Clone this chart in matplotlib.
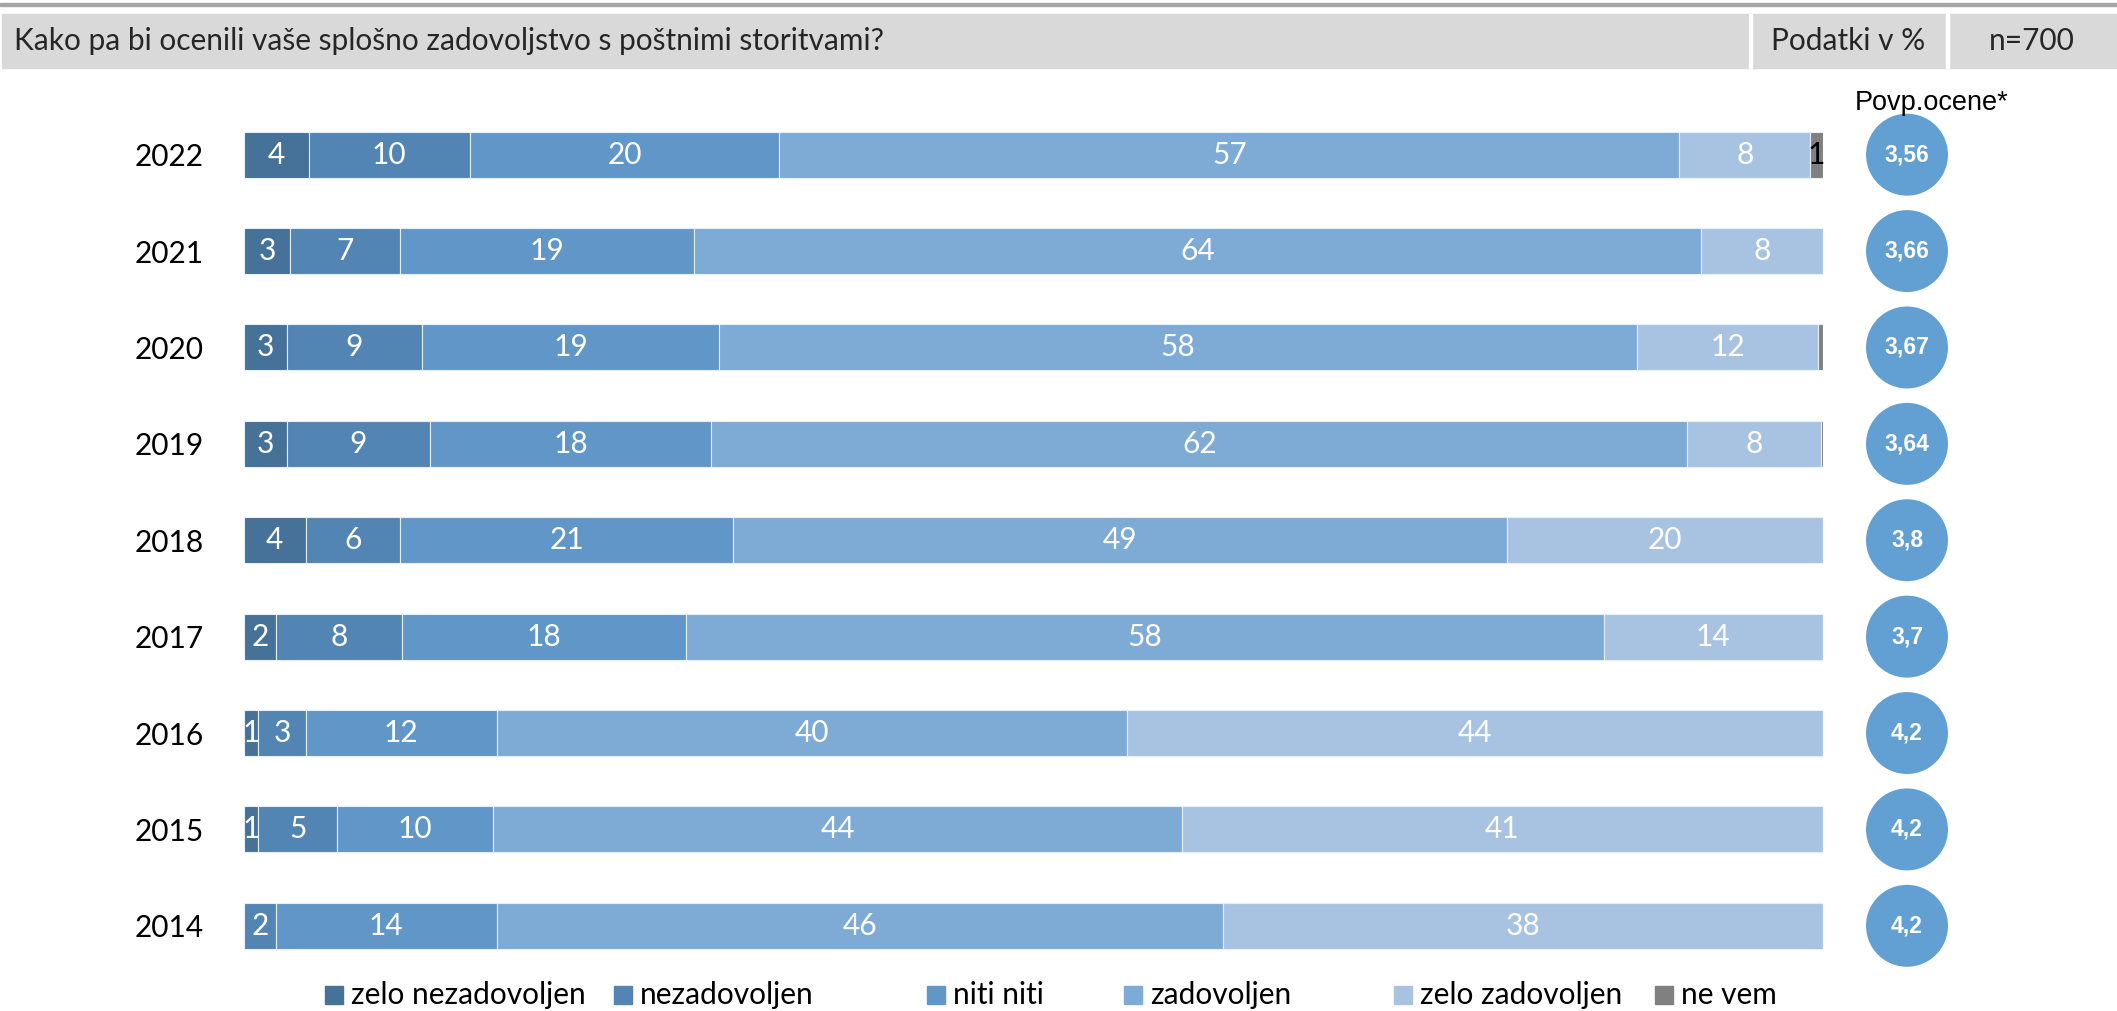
import matplotlib
matplotlib.use('Agg')
import matplotlib.pyplot as plt
from matplotlib.patches import Rectangle
import numpy as np

# ── Data ──────────────────────────────────────────────────────────────────────
YEARS = ['2022', '2021', '2020', '2019', '2018', '2017', '2016', '2015', '2014']
CATEGORIES = ['zelo nezadovoljen', 'nezadovoljen', 'niti niti',
              'zadovoljen', 'zelo zadovoljen', 'ne vem']

zelo_nezadovoljen = [4.1, 2.9, 2.7, 2.7, 3.9, 2.0, 0.9, 0.9, 0.0]
nezadovoljen      = [10.2, 7.0, 8.6, 9.1, 6.0, 8.0, 3.0, 5.0, 2.0]
niti_niti         = [19.6, 18.6, 18.8, 17.8, 21.1, 18.0, 12.1, 9.9, 14.0]
zadovoljen        = [57.0, 63.8, 58.1, 61.8, 49.0, 58.1, 39.9, 43.6, 46.0]
zelo_zadovoljen   = [8.3, 7.7, 11.5, 8.45, 20.0, 13.9, 44.1, 40.6, 38.0]
ne_vem            = [0.8, 0.0, 0.3, 0.15, 0.0, 0.0, 0.0, 0.0, 0.0]

POVP_OCENE = ['3,56', '3,66', '3,67', '3,64', '3,8', '3,7', '4,2', '4,2', '4,2']

COLORS = ['#467199', '#5284B4', '#6097C8', '#7EABD6', '#A8C3E1', '#808080']
CIRCLE_COLOR = '#629FD2'

TITLE = 'Kako pa bi ocenili vaše splošno zadovoljstvo s poštnimi storitvami?'

# ── Figure ────────────────────────────────────────────────────────────────────
W, H = 2117, 1011
fig = plt.figure(figsize=(W / 100, H / 100), dpi=100)
FONT = 'Lato'
FS = 21.5


def fx(px):
    return px / W


def fy(py):
    return 1 - py / H


# header band
fig.patches.append(Rectangle((fx(2), fy(68)), fx(W - 2), (68 - 14) / H,
                             transform=fig.transFigure, color='#D9D9D9', zorder=0))
fig.patches.append(Rectangle((0, fy(6)), 1, 3 / H,
                             transform=fig.transFigure, color='#A6A6A6', zorder=0))
for xd in (1750, 1947):
    fig.patches.append(Rectangle((fx(xd - 1.5), fy(68)), 3 / W, (68 - 14) / H,
                                 transform=fig.transFigure, color='white', zorder=1))
fig.text(fx(14), fy(41), TITLE, fontsize=FS, family=FONT, va='center', ha='left',
         color='#262626')
fig.text(fx(1848), fy(41), 'Podatki v %', fontsize=FS, family=FONT,
         va='center', ha='center', color='#262626')
fig.text(fx(2032), fy(41), 'n=700', fontsize=FS, family=FONT,
         va='center', ha='center', color='#262626')

# ── Bars ──────────────────────────────────────────────────────────────────────
ax_top, ax_bot = 106.5, 974.0
ax = fig.add_axes([fx(244), fy(ax_bot), fx(1823 - 244), (ax_bot - ax_top) / H])

series = [zelo_nezadovoljen, nezadovoljen, niti_niti, zadovoljen,
          zelo_zadovoljen, ne_vem]
y = np.arange(len(YEARS))
left = np.zeros(len(YEARS))
for ci, (vals, col) in enumerate(zip(series, COLORS)):
    vals = np.array(vals)
    ax.barh(y, vals, left=left, height=0.477, color=col,
            edgecolor='#E8EEF6', linewidth=0.8)
    for yi, (v, l) in enumerate(zip(vals, left)):
        if v >= 0.5:
            ax.text(l + v / 2, yi, f'{v:.0f}', ha='center', va='center',
                    fontsize=FS, family=FONT,
                    color='black' if ci == 5 else 'white')
    left += vals

ax.set_xlim(0, 100)
ax.set_ylim(len(YEARS) - 0.5, -0.5)
ax.set_yticks(y)
ax.set_yticklabels(YEARS, fontsize=FS, family=FONT)
ax.tick_params(axis='y', length=0, pad=29)
ax.set_xticks([])
for s in ax.spines.values():
    s.set_visible(False)

# average score circles
xc = (1907 - 244) / (1823 - 244) * 100
ax.scatter([xc] * len(YEARS), y, s=3481, color=CIRCLE_COLOR,
           edgecolors='none', clip_on=False, zorder=3)
for yi, txt in enumerate(POVP_OCENE):
    ax.text(xc, yi, txt, ha='center', va='center', fontsize=16.5,
            family='Liberation Sans', fontweight='bold', color='white',
            zorder=4, clip_on=False)
fig.text(fx(1932), fy(103), 'Povp.ocene*', fontsize=19.5,
         family='Liberation Sans', ha='center', va='center')

# ── Legend ────────────────────────────────────────────────────────────────────
leg_x = [325, 614, 927, 1124, 1394, 1655]
leg_y = 995
for lx, lab, col in zip(leg_x, CATEGORIES, COLORS):
    fig.patches.append(Rectangle((fx(lx), fy(leg_y + 9)), 18 / W, 18 / H,
                                 transform=fig.transFigure, color=col))
    fig.text(fx(lx + 26), fy(leg_y), lab, fontsize=FS, family=FONT,
             va='center', ha='left')

fig.savefig('out.png', dpi=100)
